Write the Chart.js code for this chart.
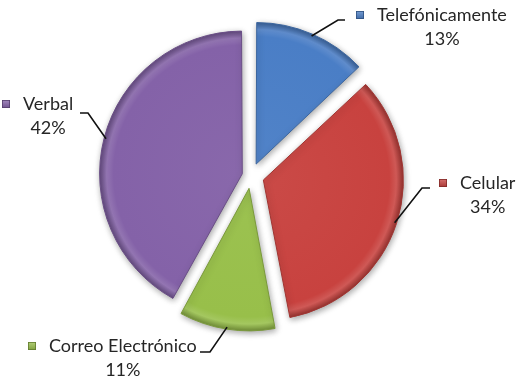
<!DOCTYPE html>
<html>
<head>
<meta charset="utf-8">
<script src="https://cdn.jsdelivr.net/npm/chart.js@4/dist/chart.umd.min.js"></script>
<style>
  html, body { margin: 0; padding: 0; background: #fff; }
  #wrap { width: 516px; height: 381px; position: relative; }
</style>
</head>
<body>
<div id="wrap"><canvas id="pie"></canvas></div>
<script>
// Canales de comunicación, porcentaje por medio
const categories = ['Telefónicamente', 'Celular', 'Correo Electrónico', 'Verbal'];
const values = [13, 34, 11, 42];
const sliceColors = ['#4a7ec6', '#c8423f', '#98bf4a', '#8462a8'];

const PIE_RADIUS = 138;
// arc.draw() moves each slice by offset / 4 (and grows it a little)
const sliceOffsets = [52, 52, 50, 36];
const FONT = "18px Lato, 'Open Sans', sans-serif";

// where each callout sits: elbow of the leader, its short tail, text origin
const calloutSpots = [
    { elbow: [338, 20],  tail: [345, 20],  text: [377, 15] },
    { elbow: [422, 188], tail: [430, 188], text: [460, 183] },
    { elbow: [210, 352], tail: [200, 352], text: [49, 346] },
    { elbow: [88, 113],  tail: [80, 113],  text: [23, 104] }
];

function shade(hex, amt) {
    const n = parseInt(hex.slice(1), 16);
    let r = (n >> 16) & 255, g = (n >> 8) & 255, b = n & 255;
    const f = v => Math.max(0, Math.min(255, Math.round(amt < 0 ? v * (1 + amt) : v + (255 - v) * amt)));
    return 'rgb(' + f(r) + ',' + f(g) + ',' + f(b) + ')';
}

const total = values.reduce((a, b) => a + b, 0);

// rim bevel: radial gradient that follows each slice's outer edge
function bevelFill(context) {
    const i = context.dataIndex;
    const base = sliceColors[i];
    const chart = context.chart;
    const area = chart.chartArea;
    if (!area || i === undefined) return base;
    const cx = (area.left + area.right) / 2;
    const cy = (area.top + area.bottom) / 2;
    const circ = values[i] / total * Math.PI * 2;
    const fix = 1 - Math.sin(Math.min(Math.PI, circ));
    const outer = PIE_RADIUS + (sliceOffsets[i] / 4) * fix;
    const g = chart.ctx.createRadialGradient(cx, cy, 0, cx, cy, outer);
    g.addColorStop(0, shade(base, 0.04));
    g.addColorStop(Math.max(0, 1 - 14 / outer), base);
    g.addColorStop(Math.max(0, 1 - 7 / outer), shade(base, 0.12));
    g.addColorStop(1, shade(base, -0.25));
    return g;
}

const dropShadow = {
    id: 'dropShadow',
    beforeDatasetsDraw(chart) {
        const ctx = chart.ctx;
        ctx.save();
        ctx.shadowColor = 'rgba(0,0,0,0.35)';
        ctx.shadowBlur = 6;
        ctx.shadowOffsetX = 1;
        ctx.shadowOffsetY = 2;
    },
    afterDatasetsDraw(chart) {
        chart.ctx.restore();
    }
};

const callouts = {
    id: 'callouts',
    afterDraw(chart) {
        const ctx = chart.ctx;
        const meta = chart.getDatasetMeta(0);
        ctx.save();
        ctx.font = FONT;
        ctx.textBaseline = 'middle';
        meta.data.forEach((arc, i) => {
            const spot = calloutSpots[i];
            const mid = (arc.startAngle + arc.endAngle) / 2;
            const circ = arc.endAngle - arc.startAngle;
            const move = (arc.options.offset || 0) / 4;
            const fix = 1 - Math.sin(Math.min(Math.PI, circ));
            const r = arc.outerRadius + move * fix + move - 2;
            const sx = arc.x + Math.cos(mid) * r;
            const sy = arc.y + Math.sin(mid) * r;

            // leader line
            ctx.beginPath();
            ctx.moveTo(sx, sy);
            ctx.lineTo(spot.elbow[0], spot.elbow[1]);
            ctx.lineTo(spot.tail[0], spot.tail[1]);
            ctx.strokeStyle = '#111';
            ctx.lineWidth = 1.6;
            ctx.stroke();

            // legend key
            const tx = spot.text[0], ty = spot.text[1];
            const kx = tx - 21, ky = ty - 4;
            const kg = ctx.createLinearGradient(kx, ky, kx, ky + 8);
            kg.addColorStop(0, shade(sliceColors[i], 0.25));
            kg.addColorStop(1, shade(sliceColors[i], -0.15));
            ctx.fillStyle = kg;
            ctx.fillRect(kx, ky, 8, 8);
            ctx.strokeStyle = shade(sliceColors[i], -0.35);
            ctx.lineWidth = 0.8;
            ctx.strokeRect(kx + 0.4, ky + 0.4, 7.2, 7.2);

            // name and share
            ctx.fillStyle = '#262626';
            ctx.textAlign = 'left';
            ctx.fillText(categories[i], tx, ty);
            const w = ctx.measureText(categories[i]).width;
            ctx.textAlign = 'center';
            const pct = Math.round(values[i] / total * 100) + '%';
            ctx.fillText(pct, tx + w / 2, ty + 24);
        });
        ctx.restore();
    }
};

new Chart(document.getElementById('pie'), {
    type: 'pie',
    data: {
        labels: categories,
        datasets: [{
            data: values,
            backgroundColor: bevelFill,
            borderColor: sliceColors.map(c => shade(c, -0.2)),
            borderWidth: 1,
            offset: sliceOffsets,
            hoverOffset: 52,
            radius: PIE_RADIUS,
            clip: false
        }]
    },
    options: {
        responsive: true,
        maintainAspectRatio: false,
        animation: false,
        events: [],
        layout: { padding: { left: 0, right: 14, top: 0, bottom: 29 } },
        plugins: {
            legend: { display: false },
            tooltip: { enabled: false }
        }
    },
    plugins: [dropShadow, callouts]
});
</script>
</body>
</html>
